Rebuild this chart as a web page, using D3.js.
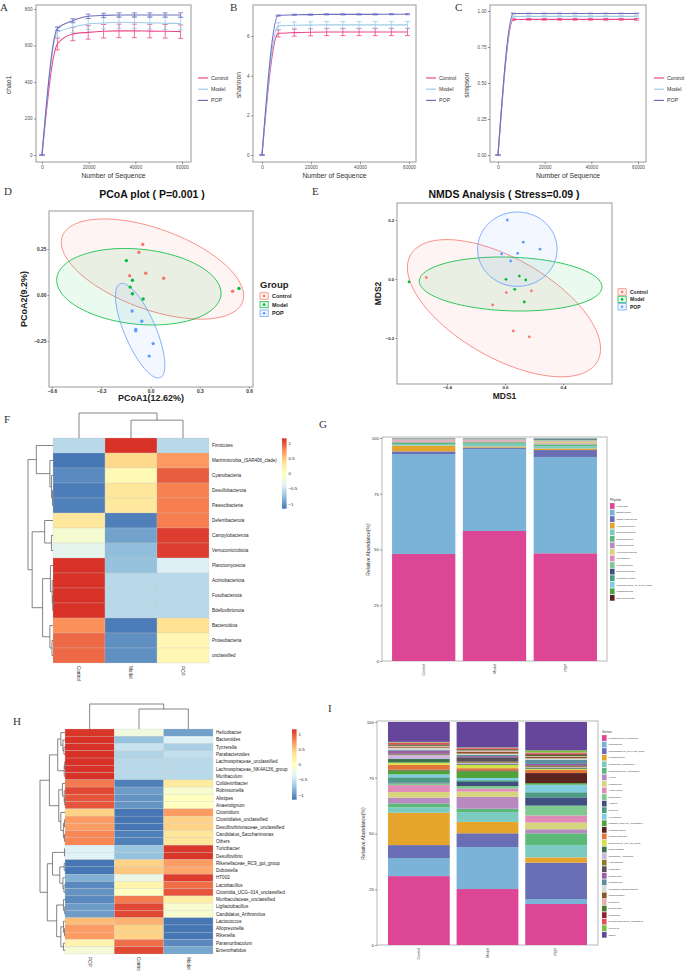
<!DOCTYPE html>
<html>
<head>
<meta charset="utf-8">
<script src="https://cdn.jsdelivr.net/npm/d3@7"></script>
<style>
  body { margin: 0; background: #fff; }
  svg { display: block; }
</style>
</head>
<body>
<svg id="fig" width="685" height="971"></svg>
<script>
// ---------- data ----------
const groups = ["Control", "Model", "POP"];

// rarefaction (A-C)
const depths = [0, 6600, 13200, 19800, 26400, 33000, 39600, 46200, 52800, 59400];
const chao1Control = [0, 608, 663, 672, 678, 680, 680, 679, 678, 676];
const chao1ControlErr = [0, 32, 37, 37, 37, 37, 37, 37, 37, 37];
const chao1Model = [0, 672, 700, 718, 723, 727, 726, 724, 722, 720];
const chao1ModelErr = [0, 25, 28, 30, 32, 33, 33, 34, 34, 35];
const chao1Pop = [0, 692, 736, 760, 765, 767, 767, 767, 767, 767];
const chao1PopErr = [0, 10, 11, 12, 12, 12, 12, 12, 12, 12];
const shannonControl = [0, 6.13, 6.17, 6.19, 6.2, 6.2, 6.2, 6.2, 6.2, 6.2];
const shannonControlErr = [0, 0.18, 0.18, 0.18, 0.18, 0.18, 0.18, 0.18, 0.18, 0.18];
const shannonModel = [0, 6.5, 6.54, 6.55, 6.56, 6.56, 6.56, 6.56, 6.56, 6.56];
const shannonModelErr = [0, 0.17, 0.17, 0.17, 0.17, 0.17, 0.17, 0.17, 0.17, 0.17];
const shannonPop = [0, 7.03, 7.07, 7.08, 7.09, 7.09, 7.09, 7.09, 7.1, 7.1];
const shannonPopErr = [0, 0.03, 0.03, 0.03, 0.03, 0.03, 0.03, 0.03, 0.03, 0.03];
const simpsonControl = [0, 0.941, 0.942, 0.942, 0.942, 0.942, 0.942, 0.942, 0.942, 0.942];
const simpsonControlErr = [0, 0.006, 0.006, 0.006, 0.006, 0.006, 0.006, 0.006, 0.006, 0.006];
const simpsonModel = [0, 0.962, 0.963, 0.963, 0.963, 0.963, 0.963, 0.963, 0.963, 0.963];
const simpsonModelErr = [0, 0.004, 0.004, 0.004, 0.004, 0.004, 0.004, 0.004, 0.004, 0.004];
const simpsonPop = [0, 0.983, 0.983, 0.983, 0.983, 0.983, 0.983, 0.983, 0.983, 0.983];
const simpsonPopErr = [0, 0.002, 0.002, 0.002, 0.002, 0.002, 0.002, 0.002, 0.002, 0.002];
const seqTicks = [0, 20000, 40000, 60000];

// PCoA (D)
const pcoaControl = [[-0.047, 0.275], [-0.071, 0.232], [-0.127, 0.105], [-0.029, 0.118], [0.080, 0.091], [0.5, 0.02]];
const pcoaModel = [[-0.147, 0.187], [-0.110, 0.080], [-0.124, 0.043], [-0.110, 0.007], [-0.045, -0.022], [0.539, 0.036]];
const pcoaPop = [[-0.112, -0.087], [-0.053, -0.143], [-0.09, -0.187], [-0.09, -0.194], [0.016, -0.264], [-0.008, -0.332]];
const pcoaEllCenter = [[0.012, 0.141], [-0.071, 0.045], [-0.063, -0.194]];
const pcoaEllMajor = [[0.549, -0.178], [0.5, -0.045], [0.122, -0.255]];
const pcoaEllMinor = [[0.084, 0.206], [0.023, 0.203], [0.088, 0.033]];

// NMDS (E)
const nmdsControl = [[-0.543, 0.005], [0.009, -0.046], [0.182, -0.040], [-0.085, -0.088], [0.057, -0.176], [0.168, -0.196]];
const nmdsModel = [[-0.662, -0.010], [0.007, -0.001], [0.099, 0.010], [0.143, -0.003], [0.067, -0.035], [0.133, -0.078]];
const nmdsPop = [[0.016, 0.2], [0.126, 0.125], [0.241, 0.101], [-0.023, 0.085], [0.087, 0.087], [0.039, 0.061]];
const nmdsEllCenter = [[-0.007, -0.099], [0.039, -0.017], [0.085, 0.101]];
const nmdsEllMajor = [[0.644, -0.181], [0.630, -0.010], [0.274, 0]];
const nmdsEllMinor = [[0.170, 0.146], [0.003, 0.091], [0, 0.126]];

// phylum heatmap (F)
const heatPhyla = ["Firmicutes", "Marinimicrobia_(SAR406_clade)", "Cyanobacteria", "Desulfobacterota", "Patescibacteria",
  "Deferribacterota", "Campylobacterota", "Verrucomicrobiota", "Planctomycetota", "Actinobacteriota",
  "Fusobacteriota", "Bdellovibrionota", "Bacteroidota", "Proteobacteria", "unclassified"];
const phylaZControl = [-0.58, -1.15, -1.05, -1.12, -1.1, 0.28, -0.12, -0.32, 1.15, 1.15, 1.15, 1.15, 0.75, 0.92, 0.92];
const phylaZModel = [1.15, 0.42, 0.07, 0.3, 0.27, -1.1, -0.92, -0.77, -0.75, -0.58, -0.58, -0.58, -1.12, -1.02, -1.02];
const phylaZPop = [-0.58, 0.72, 0.97, 0.82, 0.83, 0.83, 1.1, 1.1, -0.4, -0.58, -0.58, -0.58, 0.37, 0.1, 0.1];
const phylaRowTree = [[0, [1, [2, [3, 4, 0.1], 0.3], 0.6], 3.2],
  [[5, [6, 7, 0.3], 1.6], [[8, [9, [10, 11, 0.05], 0.15], 0.5], [12, [13, 14, 0.2], 0.6], 2.0], 4.0], 4.8];
const phylaColTree = [0, [1, 2, 1.0], 1.4];

// genus heatmap (H)
const heatGenusCols = ["POP", "Control", "Model"];
const heatGenus = ["Helicobacter", "Bacteroides", "Tyzzerella", "Parabacteroides", "Lachnospiraceae_unclassified",
  "Lachnospiraceae_NK4A136_group", "Muribaculum", "Colidextribacter", "Robinsoniella", "Alistipes", "Anaerotignum",
  "Clostridium", "Clostridiales_unclassified", "Desulfovibrionaceae_unclassified", "Candidatus_Saccharimonas", "Others",
  "Turicibacter", "Desulfovibrio", "Rikenellaceae_RC9_gut_group", "Dubosiella", "HT002", "Lactobacillus",
  "Clostridia_UCG\u2013014_unclassified", "Muribaculaceae_unclassified", "Ligilactobacillus", "Candidatus_Arthromitus",
  "Lactococcus", "Alloprevotella", "Rikenella", "Paramuribaculum", "Enterorhabdus"];
const genusZPop = [1.13, 1.15, 1.15, 1.15, 1.15, 1.15, 1.15, 0.85, 1.05, 1.0, 1.0, 0.45, 0.7, 0.7, 0.8, 0.8,
  -0.4, -0.38, -1.15, -1.15, -0.85, -1.05, -1.0, -1.05, -0.95, -0.95, 0.55, 0.7, 0.7, 0.15, -0.15];
const genusZControl = [-0.2, -0.75, -0.5, -0.62, -0.58, -0.58, -0.58, -1.1, -0.95, -1.0, -1.0, -1.15, -1.15, -1.15, -1.1, -1.1,
  -0.72, -0.75, 0.45, 0.5, -0.25, 0.15, 0.0, 0.85, 1.05, 1.05, 0.6, 0.45, 0.45, 0.9, 1.05];
const genusZModel = [-0.93, -0.4, -0.65, -0.53, -0.58, -0.58, -0.58, 0.25, -0.1, 0.0, 0.0, 0.7, 0.45, 0.45, 0.3, 0.3,
  1.12, 1.13, 0.7, 0.65, 1.1, 0.9, 1.0, 0.2, -0.1, -0.1, -1.15, -1.15, -1.15, -1.05, -0.9];
const genusRowTree = [
  [[[0, [1, [2, 3, 0.2], 0.4], 0.8], [[4, 5, 0.05], 6, 0.15], 1.4],
   [[7, [8, [9, 10, 0.05], 0.15], 0.5], [11, [[12, 13, 0.1], [14, 15, 0.1], 0.3], 0.8], 1.2], 3.0],
  [[[16, 17, 0.1], [[18, 19, 0.15], [20, [21, 22, 0.2], 0.4], 1.0], 2.4],
   [[23, [24, 25, 0.05], 0.3], [[26, [27, 28, 0.1], 0.3], [29, 30, 0.3], 0.8], 1.6], 3.4], 4.8];
const genusColTree = [0, [1, 2, 1.0], 1.25];

// stacked bars (G, I)
const phylumKeys = ["Firmicutes", "Bacteroidota", "Campylobacterota", "Actinobacteriota", "Desulfobacterota",
  "Proteobacteria", "Patescibacteria", "Verrucomicrobiota", "unclassified", "Cyanobacteria", "Deferribacterota",
  "Planctomycetota", "Marinimicrobia_(SAR406_clade)", "Fusobacteriota", "Bdellovibrionota"];
const phylumControl = [48, 44.8, 1.2, 2.6, 0.7, 0.7, 0.5, 0.3, 0.6, 0.2, 0.1, 0.1, 0.1, 0.05, 0.05];
const phylumModel = [58.3, 36.8, 0.6, 0.5, 1.2, 0.7, 0.4, 0.3, 0.6, 0.3, 0.1, 0.1, 0.05, 0.03, 0.02];
const phylumPop = [48.3, 43.2, 3.1, 0.7, 1.0, 0.8, 0.5, 0.8, 0.4, 0.4, 0.3, 0.2, 0.15, 0.1, 0.05];

const genusKeys = ["Muribaculaceae_unclassified", "Lactobacillus", "Lachnospiraceae_NK4A136_group", "Ligilactobacillus",
  "Clostridiales_unclassified", "Lachnospiraceae_unclassified", "HT002", "Muribaculum", "Alloprevotella", "Bacteroides",
  "Alistipes", "Rikenella", "Helicobacter", "Clostridia_UCG-014_unclassified", "Parabacteroides", "Paramuribaculum",
  "Rikenellaceae_RC9_gut_group", "Enterorhabdus", "Candidatus_Arthromitus", "Anaerotignum", "Turicibacter",
  "Lactococcus", "Robinsoniella", "Candidatus_Saccharimonas", "Colidextribacter", "Dubosiella", "Desulfovibrio",
  "Clostridium", "Desulfovibrionaceae_unclassified", "Tyzzerella", "Others"];
const genusControl = [30.9, 8.1, 5.8, 14.5, 2.4, 1.8, 2.6, 2.5, 3.1, 0.8, 0.4, 2.3, 1.3, 1.8, 0.3, 2.2, 1.0, 1.6, 1.8,
  0.3, 0.4, 1.2, 0.4, 0.8, 0.4, 0.6, 0.4, 0.3, 0.8, 0.3, 8.9];
const genusModel = [25.1, 18.8, 6.2, 5.1, 4.4, 1.5, 5.3, 2.4, 1.3, 1.2, 1.8, 0.8, 1.0, 3.0, 0.4, 1.0, 1.4, 0.4, 0.6,
  0.5, 2.0, 0.5, 0.5, 0.6, 0.9, 0.5, 0.4, 0.4, 0.4, 0.2, 11.4];
const genusPop = [18.4, 2.2, 16.3, 2.4, 5.5, 5.3, 1.8, 3.0, 3.2, 4.4, 3.7, 2.3, 3.4, 0.7, 4.5, 1.4, 0.4, 0.4, 0.4,
  0.5, 0.4, 0.6, 1.9, 0.6, 0.6, 0.4, 0.6, 0.5, 0.5, 1.0, 12.7];
const barPalette = ["#dd4694", "#7bb3d8", "#6a6fb5", "#e5a52d", "#7ccbc1", "#5db97a", "#b98ac0", "#d6d57d", "#e08bb8",
  "#7dc98f", "#404f7f", "#4d9a85", "#80cde0", "#4fa33a", "#5a2320", "#e0763a", "#d6e04a", "#3b7550", "#cdb6dc",
  "#8f7a2c", "#5a5058", "#a05aa8", "#5a8fa0", "#d4dcd4", "#8c5228", "#e5b2b0", "#4a7a30", "#8b2a2a", "#e05260",
  "#7cc040", "#65469a"];

const rareColors = ["#e8488a", "#9ccbe8", "#6f6fc0"];
const ordColors = ["#F8766D", "#00BA38", "#619CFF"];
const heatColors = ["#4575B4", "#91BFDB", "#E0F3F8", "#FFFFBF", "#FEE090", "#FC8D59", "#D73027"];

// ---------- drawing ----------
const FONT = "'Liberation Sans', Arial, sans-serif";
const svg = d3.select("#fig");
svg.append("rect").attr("width", 685).attr("height", 971).attr("fill", "#fff");

function styleAxis(a, size, color, weight) {
  a.select(".domain").remove();
  a.selectAll("line").attr("stroke", "#555").attr("stroke-width", 0.6);
  a.selectAll("text").attr("font-size", size).attr("fill", color)
    .attr("font-family", FONT).attr("font-weight", weight || "normal");
}

function letter(t, x, y) {
  svg.append("text").attr("x", x).attr("y", y).attr("font-family", "'Liberation Serif', 'DejaVu Serif', serif")
    .attr("font-size", 11).attr("fill", "#333").text(t);
}

function rarefaction(cfg) {
  const g = svg.append("g");
  const x = d3.scaleLinear().domain([0, 60000]).range([cfg.x0, cfg.x1]);
  const y = d3.scaleLinear().domain([0, cfg.yMax]).range([155, cfg.yMaxPx]);
  g.append("rect").attr("x", cfg.left).attr("y", 5).attr("width", cfg.right - cfg.left).attr("height", 157)
    .attr("fill", "none").attr("stroke", "#9a9a9a").attr("stroke-width", 1);
  const xa = g.append("g").attr("transform", "translate(0,162)")
    .call(d3.axisBottom(x).tickValues(seqTicks).tickSize(2).tickPadding(1.5).tickFormat(d3.format("d")));
  const ya = g.append("g").attr("transform", `translate(${cfg.left},0)`)
    .call(d3.axisLeft(y).tickValues(cfg.ticks).tickSize(2).tickPadding(1.5).tickFormat(cfg.fmt));
  styleAxis(xa, 4.6, "#4d4d4d");
  styleAxis(ya, 4.6, "#4d4d4d");
  g.append("text").attr("x", (cfg.left + cfg.right) / 2).attr("y", 178).attr("text-anchor", "middle")
    .attr("font-family", FONT).attr("font-size", 6.8).attr("fill", "#333").text("Number of Sequence");
  g.append("text").attr("transform", `translate(${cfg.ylabX},85) rotate(-90)`).attr("text-anchor", "middle")
    .attr("font-family", FONT).attr("font-size", 6.8).attr("fill", "#333").text(cfg.ylab);

  cfg.series.forEach((s, i) => {
    const col = rareColors[i];
    const pts = depths.map((d, j) => ({ d: d, v: s[0][j], e: s[1][j] }));
    g.selectAll(null).data(pts).join("path")
      .attr("d", p => `M${x(p.d) - 2.5},${y(p.v + p.e)}h5M${x(p.d)},${y(p.v + p.e)}V${y(p.v - p.e)}M${x(p.d) - 2.5},${y(p.v - p.e)}h5`)
      .attr("stroke", col).attr("stroke-width", 0.8).attr("fill", "none");
    g.append("path").datum(pts)
      .attr("d", d3.line().x(p => x(p.d)).y(p => y(p.v)).curve(d3.curveMonotoneX))
      .attr("stroke", col).attr("stroke-width", 1.1).attr("fill", "none");
  });

  groups.forEach((name, i) => {
    const yy = 78 + i * 11.2;
    g.append("line").attr("x1", cfg.legX).attr("x2", cfg.legX + 10).attr("y1", yy).attr("y2", yy)
      .attr("stroke", rareColors[i]).attr("stroke-width", 1.2);
    g.append("text").attr("x", cfg.legX + 13).attr("y", yy).attr("dy", "0.35em").attr("font-family", FONT)
      .attr("font-size", 5.3).attr("fill", "#333").text(name);
  });
}

rarefaction({ left: 36, right: 191, x0: 42, x1: 182, yMax: 800, yMaxPx: 9, ticks: [0, 200, 400, 600, 800],
  fmt: d3.format("d"), ylab: "chao1", ylabX: 11, legX: 198,
  series: [[chao1Control, chao1ControlErr], [chao1Model, chao1ModelErr], [chao1Pop, chao1PopErr]] });
rarefaction({ left: 253, right: 416, x0: 262, x1: 409, yMax: 6, yMaxPx: 36, ticks: [0, 2, 4, 6],
  fmt: d3.format("d"), ylab: "shannon", ylabX: 241, legX: 426,
  series: [[shannonControl, shannonControlErr], [shannonModel, shannonModelErr], [shannonPop, shannonPopErr]] });
rarefaction({ left: 490, right: 646, x0: 498, x1: 638, yMax: 1, yMaxPx: 11, ticks: [0, 0.25, 0.5, 0.75, 1],
  fmt: d3.format(".2f"), ylab: "simpson", ylabX: 469, legX: 654,
  series: [[simpsonControl, simpsonControlErr], [simpsonModel, simpsonModelErr], [simpsonPop, simpsonPopErr]] });

function ordination(cfg) {
  const g = svg.append("g");
  const x = d3.scaleLinear().domain(cfg.xDom).range(cfg.xRange);
  const y = d3.scaleLinear().domain(cfg.yDom).range(cfg.yRange);
  const f = cfg.frame;
  g.append("rect").attr("x", f[0]).attr("y", f[1]).attr("width", f[2] - f[0]).attr("height", f[3] - f[1])
    .attr("fill", "#fff").attr("stroke", "#9a9a9a").attr("stroke-width", 1);
  const ell = d3.line().x(p => x(p[0])).y(p => y(p[1])).curve(d3.curveLinearClosed);
  cfg.centers.forEach((c, i) => {
    const a = cfg.major[i], b = cfg.minor[i];
    const pts = d3.range(0, 2 * Math.PI, Math.PI / 60).map(t =>
      [c[0] + Math.cos(t) * a[0] + Math.sin(t) * b[0], c[1] + Math.cos(t) * a[1] + Math.sin(t) * b[1]]);
    g.append("path").attr("d", ell(pts)).attr("fill", ordColors[i]).attr("fill-opacity", 0.08)
      .attr("stroke", ordColors[i]).attr("stroke-width", 0.8);
  });
  cfg.points.forEach((set, i) => {
    g.selectAll(null).data(set).join("circle").attr("cx", p => x(p[0])).attr("cy", p => y(p[1]))
      .attr("r", cfg.r).attr("fill", ordColors[i]);
  });
  const xa = g.append("g").attr("transform", `translate(0,${f[3]})`)
    .call(d3.axisBottom(x).tickValues(cfg.xTicks).tickSize(1.5).tickPadding(0.8).tickFormat(cfg.xFmt));
  const ya = g.append("g").attr("transform", `translate(${f[0]},0)`)
    .call(d3.axisLeft(y).tickValues(cfg.yTicks).tickSize(1.5).tickPadding(1.2).tickFormat(cfg.yFmt));
  styleAxis(xa, cfg.tickSize, "#333", "bold");
  styleAxis(ya, cfg.tickSize, "#333", "bold");
  g.append("text").attr("x", cfg.titleX).attr("y", 198).attr("text-anchor", "middle").attr("font-family", FONT)
    .attr("font-weight", "bold").attr("font-size", 10.5).attr("fill", "#111").text(cfg.title);
  g.append("text").attr("x", (f[0] + f[2]) / 2).attr("y", cfg.xlabY).attr("text-anchor", "middle")
    .attr("font-family", FONT).attr("font-weight", "bold").attr("font-size", cfg.labSize).attr("fill", "#222").text(cfg.xlab);
  g.append("text").attr("transform", `translate(${cfg.ylabX},${(f[1] + f[3]) / 2}) rotate(-90)`)
    .attr("text-anchor", "middle").attr("font-family", FONT).attr("font-weight", "bold")
    .attr("font-size", cfg.labSize).attr("fill", "#222").text(cfg.ylab);
  if (cfg.legTitle) {
    g.append("text").attr("x", cfg.legX).attr("y", cfg.legY - 8).attr("font-family", FONT).attr("font-weight", "bold")
      .attr("font-size", 9.5).attr("fill", "#222").text(cfg.legTitle);
  }
  groups.forEach((name, i) => {
    const yy = cfg.legY + i * cfg.legStep;
    g.append("rect").attr("x", cfg.legX).attr("y", yy - 3.2).attr("width", 8.2).attr("height", 6.4)
      .attr("fill", ordColors[i]).attr("fill-opacity", 0.1).attr("stroke", ordColors[i]).attr("stroke-width", 0.7);
    g.append("circle").attr("cx", cfg.legX + 4.1).attr("cy", yy).attr("r", 1.3).attr("fill", ordColors[i]);
    g.append("text").attr("x", cfg.legX + 12).attr("y", yy).attr("dy", "0.35em").attr("font-family", FONT)
      .attr("font-weight", "bold").attr("font-size", cfg.legSize).attr("fill", "#222").text(name);
  });
}

ordination({ frame: [49, 211, 253, 387], xDom: [-0.6, 0.6], xRange: [52, 249], yDom: [-0.25, 0.25], yRange: [341, 249],
  xTicks: [-0.6, -0.3, 0, 0.3, 0.6], yTicks: [-0.25, 0, 0.25], xFmt: d3.format(".1f"), yFmt: d3.format(".2f"),
  centers: pcoaEllCenter, major: pcoaEllMajor, minor: pcoaEllMinor, points: [pcoaControl, pcoaModel, pcoaPop], r: 1.7,
  tickSize: 4.8, title: "PCoA plot ( P=0.001 )", titleX: 152, xlab: "PCoA1(12.62%)", xlabY: 401, ylab: "PCoA2(9.2%)",
  ylabX: 27, labSize: 9, legTitle: "Group", legX: 260, legY: 296, legStep: 8.6, legSize: 5.5 });

ordination({ frame: [397, 203, 612, 384], xDom: [-0.4, 0.4], xRange: [447, 563], yDom: [-0.2, 0.2], yRange: [338, 220],
  xTicks: [-0.4, 0, 0.4], yTicks: [-0.2, 0, 0.2], xFmt: d3.format(".1f"), yFmt: d3.format(".1f"),
  centers: nmdsEllCenter, major: nmdsEllMajor, minor: nmdsEllMinor, points: [nmdsControl, nmdsModel, nmdsPop], r: 1.4,
  tickSize: 4.4, title: "NMDS Analysis ( Stress=0.09 )", titleX: 504, xlab: "MDS1", xlabY: 399, ylab: "MDS2",
  ylabX: 381, labSize: 8.5, legTitle: null, legX: 618, legY: 292, legStep: 7.4, legSize: 5 });

const heatColor = d3.scaleLinear().domain(d3.range(7).map(i => -1.1547 + i * 2.3094 / 6)).range(heatColors).clamp(true);

function drawTree(g, node, pos, hs, isRow) {
  if (typeof node === "number") return { p: pos(node), h: 0 };
  const a = drawTree(g, node[0], pos, hs, isRow);
  const b = drawTree(g, node[1], pos, hs, isRow);
  const h = node[2];
  const d = isRow
    ? `M${hs(a.h)},${a.p}H${hs(h)}V${b.p}H${hs(b.h)}`
    : `M${a.p},${hs(a.h)}V${hs(h)}H${b.p}V${hs(b.h)}`;
  g.append("path").attr("d", d).attr("fill", "none").attr("stroke", "#666").attr("stroke-width", 0.8);
  return { p: (a.p + b.p) / 2, h: h };
}

function heatmap(cfg) {
  const g = svg.append("g");
  const yB = d3.scaleBand().domain(d3.range(cfg.rows.length)).range([cfg.top, cfg.bottom]);
  const xB = d3.scaleBand().domain(d3.range(cfg.cols.length)).range([cfg.left, cfg.right]);
  cfg.cols.forEach((c, j) => {
    g.selectAll(null).data(cfg.values[j]).join("rect")
      .attr("x", xB(j)).attr("y", (v, i) => yB(i)).attr("width", xB.bandwidth()).attr("height", yB.bandwidth())
      .attr("fill", v => heatColor(v)).attr("stroke", "#c8c8c8").attr("stroke-width", 0.25);
    g.append("text").attr("transform", `translate(${xB(j) + xB.bandwidth() / 2},${cfg.bottom + 3}) rotate(90)`)
      .attr("dy", "0.35em").attr("font-family", FONT).attr("font-size", 4.6).attr("fill", "#222").text(c);
  });
  g.selectAll(null).data(cfg.rows).join("text")
    .attr("x", cfg.right + 3).attr("y", (r, i) => yB(i) + yB.bandwidth() / 2).attr("dy", "0.35em")
    .attr("font-family", FONT).attr("font-size", cfg.labSize).attr("fill", "#222").text(r => r);
  const hsRow = d3.scaleLinear().domain([0, cfg.rowTree[2]]).range([cfg.left, cfg.rootX]);
  drawTree(g, cfg.rowTree, i => yB(i) + yB.bandwidth() / 2, hsRow, true);
  const hsCol = d3.scaleLinear().domain([0, cfg.colTree[2]]).range([cfg.top, cfg.rootY]);
  drawTree(g, cfg.colTree, j => xB(j) + xB.bandwidth() / 2, hsCol, false);

  // legend
  const ls = d3.scaleLinear().domain([-1.1547, 1.1547]).range([cfg.legTop + 70.4, cfg.legTop]);
  const gid = "grad" + cfg.id;
  const grad = svg.append("defs").append("linearGradient").attr("id", gid)
    .attr("x1", 0).attr("y1", 1).attr("x2", 0).attr("y2", 0);
  heatColors.forEach((c, i) => grad.append("stop").attr("offset", i / 6).attr("stop-color", c));
  g.append("rect").attr("x", cfg.legX).attr("y", cfg.legTop).attr("width", 4.6).attr("height", 70.4)
    .attr("fill", `url(#${gid})`);
  g.selectAll(null).data([1, 0.5, 0, -0.5, -1]).join("text")
    .attr("x", cfg.legX + 6.5).attr("y", v => ls(v)).attr("dy", "0.35em").attr("font-family", FONT)
    .attr("font-size", 4.4).attr("fill", "#222").text(v => String(v).replace("-", "\u2212"));
}

heatmap({ id: "F", rows: heatPhyla, cols: groups, values: [phylaZControl, phylaZModel, phylaZPop],
  left: 53, right: 209, top: 438, bottom: 663, labSize: 4.5, rowTree: phylaRowTree, rootX: 28,
  colTree: phylaColTree, rootY: 413, legX: 282, legTop: 438.3 });

heatmap({ id: "H", rows: heatGenus, cols: heatGenusCols, values: [genusZPop, genusZControl, genusZModel],
  left: 65, right: 213, top: 729, bottom: 954, labSize: 4.6, rowTree: genusRowTree, rootX: 40,
  colTree: genusColTree, rootY: 704, legX: 292, legTop: 729.3 });

function stackedBars(cfg) {
  const g = svg.append("g");
  const rows = groups.map((name, i) => {
    const o = { group: name };
    cfg.keys.forEach((k, j) => { o[k] = cfg.values[i][j]; });
    return o;
  });
  const series = d3.stack().keys(cfg.keys)(rows);
  const x = d3.scaleBand().domain(groups).range([cfg.left, cfg.right]).paddingInner(cfg.padIn).paddingOuter(cfg.padOut);
  const y = d3.scaleLinear().domain([0, 100]).range([cfg.bottom, cfg.top]);
  g.append("rect").attr("x", cfg.left).attr("y", cfg.top - 1).attr("width", cfg.right - cfg.left)
    .attr("height", cfg.bottom - cfg.top + 1).attr("fill", "#fff").attr("stroke", "#b0b0b0").attr("stroke-width", 0.9);
  series.forEach((s, k) => {
    g.selectAll(null).data(s).join("rect")
      .attr("x", d => x(d.data.group)).attr("width", x.bandwidth())
      .attr("y", d => y(d[1])).attr("height", d => y(d[0]) - y(d[1]))
      .attr("fill", barPalette[k]);
  });
  const ya = g.append("g").attr("transform", `translate(${cfg.left},0)`)
    .call(d3.axisLeft(y).tickValues([0, 25, 50, 75, 100]).tickSize(2).tickPadding(1));
  styleAxis(ya, 4.4, "#333");
  groups.forEach(name => {
    g.append("text").attr("transform", `translate(${x(name) + x.bandwidth() / 2},${cfg.bottom + 3}) rotate(-90)`)
      .attr("text-anchor", "end").attr("dy", "0.35em").attr("font-family", FONT).attr("font-size", 3.6)
      .attr("fill", "#333").text(name);
  });
  g.append("text").attr("transform", `translate(${cfg.ylabX},${(cfg.top + cfg.bottom) / 2}) rotate(-90)`)
    .attr("text-anchor", "middle").attr("font-family", FONT).attr("font-size", 5).attr("fill", "#333")
    .text("Relative Abundance(%)");
  g.append("text").attr("x", cfg.legX).attr("y", cfg.legTop - 5).attr("font-family", FONT).attr("font-size", 3.3)
    .attr("fill", "#333").text(cfg.legTitle);
  cfg.keys.forEach((k, i) => {
    const yy = cfg.legTop + i * 6.56;
    g.append("rect").attr("x", cfg.legX).attr("y", yy - 2.9).attr("width", 4.6).attr("height", 5.8).attr("fill", barPalette[i]);
    g.append("text").attr("x", cfg.legX + 6.6).attr("y", yy).attr("dy", "0.35em").attr("font-family", FONT)
      .attr("font-size", cfg.legSize).attr("fill", "#333").text(k);
  });
}

stackedBars({ keys: phylumKeys, values: [phylumControl, phylumModel, phylumPop], left: 382, right: 607, top: 438,
  bottom: 661, padIn: 0.106, padOut: 0.142, ylabX: 370, legX: 610, legTop: 506, legTitle: "Phylum", legSize: 2.5 });

stackedBars({ keys: genusKeys, values: [genusControl, genusModel, genusPop], left: 377, right: 598, top: 722,
  bottom: 945, padIn: 0.10, padOut: 0.16, ylabX: 365, legX: 602, legTop: 738, legTitle: "Genus", legSize: 2.3 });

letter("A", 0, 11);
letter("B", 230, 11);
letter("C", 455, 11);
letter("D", 4, 195);
letter("E", 312, 195);
letter("F", 4, 423);
letter("G", 319, 428);
letter("H", 13, 725);
letter("I", 328, 712);
</script>
</body>
</html>
